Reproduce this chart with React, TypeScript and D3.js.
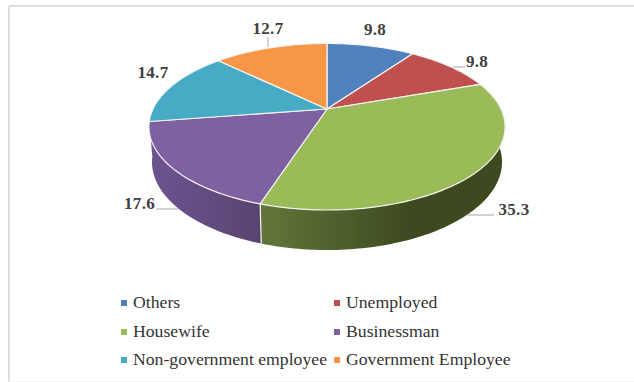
import React from "react";
import * as d3 from "d3";

// Occupation shares, in percent, clockwise from twelve o'clock.
const categories = ["Others", "Unemployed", "Housewife", "Businessman", "Non-government employee", "Government Employee"];
const shares = [9.8, 9.8, 35.3, 17.6, 14.7, 12.7];
const faceColors = ["#4f81bd", "#c0504d", "#9bbb59", "#7f60a0", "#48abc5", "#f79646"];

const WIDTH = 634;
const HEIGHT = 382;
const SERIF = "'Liberation Serif', 'Times New Roman', serif";

// Perspective disc: the far rim shrinks by `tilt`, so the pivot sits above the ellipse centre.
type Disc = { cx: number; py: number; rx: number; ry: number };
const tilt = 0.213;
const topDisc: Disc = { cx: 327, py: 109, rx: 174, ry: 79.5 };
const baseDisc: Disc = { cx: 327, py: 143.3, rx: 171, ry: 84 };

const project = (d: Disc, angle: number): [number, number] => {
  const w = 1 + tilt * Math.cos(angle);
  return [d.cx + (d.rx * Math.sin(angle)) / w, d.py - (d.ry * Math.cos(angle)) / w];
};

const arcPoints = (d: Disc, a0: number, a1: number): [number, number][] => {
  const n = Math.max(2, Math.ceil(Math.abs(a1 - a0) / 0.02));
  return d3.range(n + 1).map((i) => project(d, a0 + ((a1 - a0) * i) / n));
};

const slices = d3
  .pie<number>()
  .sort(null)
  .value((v) => v)(shares);

const path = d3.line().curve(d3.curveLinearClosed);

// Where each value label sits: [text x, baseline y, anchor].
const labelLayout: [number, number, string][] = [
  [375, 35, "middle"],
  [477, 67, "middle"],
  [514, 215, "middle"],
  [155, 209, "end"],
  [153, 78, "middle"],
  [268, 34, "middle"],
];

const leaders: [number, number, number, number][] = [
  [453, 67, 465, 67],
  [467, 215, 494, 215],
  [156, 209, 178, 209],
  [268, 37, 268, 47],
];

const legendColumns = [121, 334];
const legendRows = [303, 332, 360];

// Only the housewife and businessman slices show a rim; each gets its own shading.
const rimIds: Record<number, string> = { 2: "rimGreen", 3: "rimPurple" };

export default function App() {
  return (
    <svg
      width={WIDTH}
      height={HEIGHT}
      viewBox={`0 0 ${WIDTH} ${HEIGHT}`}
      style={{ position: "fixed", left: 0, top: 0, display: "block", background: "#ffffff" }}
    >
      <defs>
        <linearGradient id="rimGreen" gradientUnits="userSpaceOnUse" x1="262" y1="0" x2="410" y2="0">
          <stop offset="0" stopColor="#62763a" />
          <stop offset="1" stopColor="#3d4a20" />
        </linearGradient>
        <linearGradient id="rimPurple" gradientUnits="userSpaceOnUse" x1="150" y1="0" x2="262" y2="0">
          <stop offset="0" stopColor="#6c5490" />
          <stop offset="1" stopColor="#594370" />
        </linearGradient>
      </defs>

      {/* photo frame edges */}
      <line x1={9} y1={6} x2={WIDTH} y2={6} stroke="#dedede" strokeWidth={2} />
      <line x1={9} y1={6} x2={9} y2={HEIGHT} stroke="#dedede" strokeWidth={2} />
      <line x1={9} y1={381.5} x2={WIDTH} y2={381.5} stroke="#f2f2f2" strokeWidth={1} />

      {/* rim below the disc */}
      {slices.map((s, i) =>
        rimIds[i] ? (
          <path
            key={categories[i]}
            d={path([
              ...arcPoints(topDisc, s.startAngle, s.endAngle),
              ...arcPoints(baseDisc, s.endAngle, s.startAngle),
            ]) as string}
            fill={`url(#${rimIds[i]})`}
          />
        ) : null
      )}
      <line
        x1={project(topDisc, slices[3].startAngle)[0]}
        y1={project(topDisc, slices[3].startAngle)[1]}
        x2={project(baseDisc, slices[3].startAngle)[0]}
        y2={project(baseDisc, slices[3].startAngle)[1]}
        stroke="#f4f4f4"
        strokeWidth={1.2}
      />

      {/* leader lines */}
      {leaders.map(([x1, y1, x2, y2], i) => (
        <line key={i} x1={x1} y1={y1} x2={x2} y2={y2} stroke="#a6a6a6" strokeWidth={1} />
      ))}

      {/* top face */}
      {slices.map((s, i) => (
        <path
          key={categories[i]}
          d={path([[topDisc.cx, topDisc.py], ...arcPoints(topDisc, s.startAngle, s.endAngle)]) as string}
          fill={faceColors[i]}
          stroke="#f4f4f4"
          strokeWidth={1.2}
          strokeLinejoin="round"
        />
      ))}

      {/* value labels */}
      {slices.map((s, i) => (
        <text
          key={categories[i]}
          x={labelLayout[i][0]}
          y={labelLayout[i][1]}
          textAnchor={labelLayout[i][2] as "middle" | "end"}
          fontFamily={SERIF}
          fontWeight={700}
          fontSize={17}
          letterSpacing={0.3}
          fill="#404040"
        >
          {s.value}
        </text>
      ))}

      {/* legend, filled row by row */}
      {categories.map((name, i) => {
        const x = legendColumns[i % 2];
        const y = legendRows[Math.floor(i / 2)];
        return (
          <g key={name}>
            <rect x={x} y={y - 3} width={6} height={6} fill={faceColors[i]} />
            <text x={x + 12} y={y + 5} fontFamily={SERIF} fontSize={17.7} fill="#333333">
              {name}
            </text>
          </g>
        );
      })}
    </svg>
  );
}
